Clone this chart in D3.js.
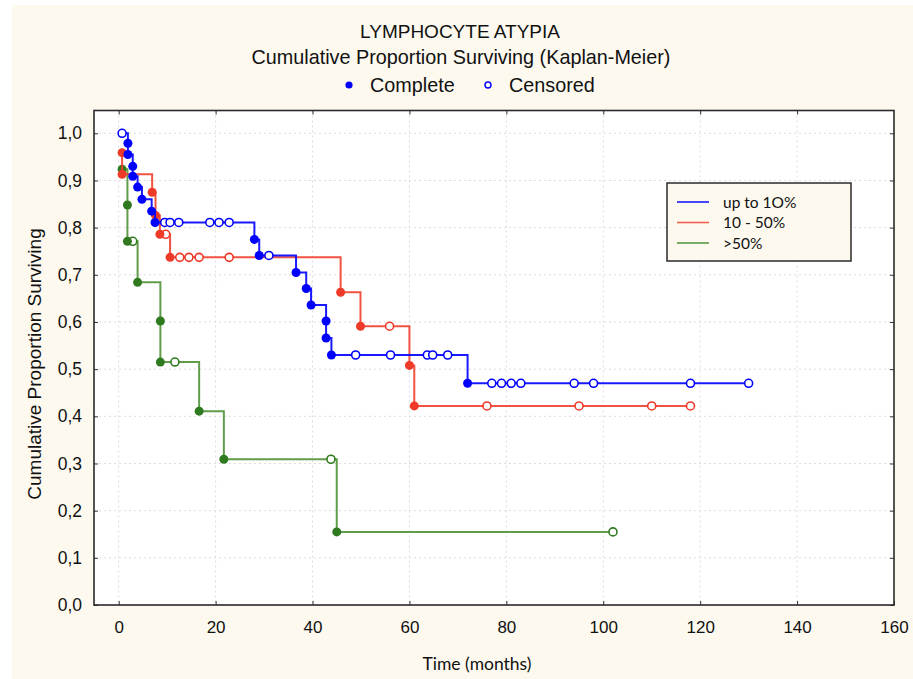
<!DOCTYPE html>
<html>
<head>
<meta charset="utf-8">
<script src="https://cdn.jsdelivr.net/npm/d3@7"></script>
<style>
  html, body { margin: 0; padding: 0; background: #ffffff; }
  svg { display: block; }
</style>
</head>
<body>
<svg id="chart" width="913" height="679"></svg>
<script>
// ---------------- DATA ----------------
const chartTitle = "LYMPHOCYTE ATYPIA";
const chartSubtitle = "Cumulative Proportion Surviving (Kaplan-Meier)";
const xAxisTitle = "Time (months)";
const yAxisTitle = "Cumulative Proportion Surviving";
const seriesNames = ["up to 1O%", "10 - 50%", ">50%"];

const xTicks = [0, 20, 40, 60, 80, 100, 120, 140, 160];
const yTicks = [0, 0.1, 0.2, 0.3, 0.4, 0.5, 0.6, 0.7, 0.8, 0.9, 1.0];

// event: 1 = complete, 0 = censored
const blueTime  = [0.7, 1.9, 1.9, 2.9, 2.9, 3.9, 4.8, 6.8, 7.5, 9.5, 10.6, 12.4, 18.8, 20.7, 22.8,
                   28, 29, 31, 36.6, 38.7, 39.7, 42.8, 42.8, 43.9, 48.9, 56.1, 63.7, 64.8, 67.9,
                   72, 77, 79, 81, 83, 94, 98, 118, 130];
const blueSurv  = [1.0, 0.979, 0.955, 0.930, 0.909, 0.886, 0.860, 0.835, 0.811, 0.811, 0.811, 0.811, 0.811, 0.811, 0.811,
                   0.775, 0.741, 0.741, 0.705, 0.671, 0.636, 0.602, 0.566, 0.530, 0.530, 0.530, 0.530, 0.530, 0.530,
                   0.470, 0.470, 0.470, 0.470, 0.470, 0.470, 0.470, 0.470, 0.470];
const blueEvent = [0, 1, 1, 1, 1, 1, 1, 1, 1, 0, 0, 0, 0, 0, 0,
                   1, 1, 0, 1, 1, 1, 1, 1, 1, 0, 0, 0, 0, 0,
                   1, 0, 0, 0, 0, 0, 0, 0, 0];

const redTime  = [0.7, 0.7, 6.9, 7.6, 8.5, 9.7, 10.6, 12.6, 14.5, 16.6, 22.8,
                  45.8, 49.9, 55.9, 60, 61, 76, 95, 110, 118];
const redSurv  = [0.959, 0.913, 0.875, 0.826, 0.786, 0.786, 0.737, 0.737, 0.737, 0.737, 0.737,
                  0.663, 0.591, 0.591, 0.508, 0.422, 0.422, 0.422, 0.422, 0.422];
const redEvent = [1, 1, 1, 1, 1, 0, 1, 0, 0, 0, 0,
                  1, 1, 0, 1, 1, 0, 0, 0, 0];

const greenTime  = [0.7, 1.8, 1.8, 2.9, 3.9, 8.6, 8.6, 11.6, 16.6, 21.7, 43.8, 45, 102];
const greenSurv  = [0.924, 0.848, 0.771, 0.771, 0.684, 0.602, 0.515, 0.515, 0.411, 0.309, 0.309, 0.155, 0.155];
const greenEvent = [1, 1, 1, 0, 1, 1, 1, 0, 1, 1, 0, 1, 0];

// ---------------- STYLE / LAYOUT ----------------
const W = 913, H = 679;
const plot = { left: 94, right: 894, top: 110.5, bottom: 605 };
const cream = "#fdf9ef";
const seriesStyle = [
  { line: "#0000ff", dot: "#0000ff", legend: "#1a1aff" },
  { line: "#f0402e", dot: "#ee3a28", legend: "#f0604e" },
  { line: "#4f9236", dot: "#2f7a1f", legend: "#5a9a46" }
];

const svg = d3.select("#chart");
svg.append("rect").attr("x", 0).attr("y", 0).attr("width", W).attr("height", H).attr("fill", "#ffffff");
svg.append("rect").attr("x", 12).attr("y", 5).attr("width", W - 12).attr("height", H - 5).attr("fill", cream);

const x = d3.scaleLinear().domain([0, 160]).range([118.7, 894]);
const y = d3.scaleLinear().domain([0, 1]).range([605, 133.3]);

// plot background
svg.append("rect")
  .attr("x", plot.left).attr("y", plot.top)
  .attr("width", plot.right - plot.left).attr("height", plot.bottom - plot.top)
  .attr("fill", "#ffffff");

// grid
const grid = svg.append("g").attr("stroke", "#dcdcdc").attr("stroke-width", 1).attr("stroke-dasharray", "2,3");
xTicks.filter(t => x(t) < plot.right - 2).forEach(t => {
  grid.append("line").attr("x1", x(t)).attr("x2", x(t)).attr("y1", plot.top).attr("y2", plot.bottom);
});
yTicks.filter(t => t > 0).forEach(t => {
  grid.append("line").attr("x1", plot.left).attr("x2", plot.right).attr("y1", y(t)).attr("y2", y(t));
});

// axes with d3 (labels), ticks inward
const fontMain = "'Liberation Sans', Arial, sans-serif";
const fmtY = d => d3.format(".1f")(d).replace(".", ",");

const xAxis = svg.append("g").attr("transform", `translate(0,${plot.bottom})`)
  .call(d3.axisBottom(x).tickValues(xTicks).tickSize(-4).tickPadding(16).tickFormat(d3.format("d")));
xAxis.select(".domain").remove();
xAxis.selectAll("text").attr("font-family", fontMain).attr("font-size", 17).attr("fill", "#111");
xAxis.selectAll("line").attr("stroke", "#333");

const yAxis = svg.append("g").attr("transform", `translate(${plot.left},0)`)
  .call(d3.axisLeft(y).tickValues(yTicks).tickSize(-4).tickPadding(12).tickFormat(fmtY));
yAxis.select(".domain").remove();
yAxis.selectAll("text").attr("font-family", fontMain).attr("font-size", 17.5).attr("fill", "#111");
yAxis.selectAll("line").attr("stroke", "#333");

// top / right inward ticks
const topAx = svg.append("g").attr("transform", `translate(0,${plot.top})`)
  .call(d3.axisTop(x).tickValues(xTicks.filter(t => t < 160)).tickSize(-4).tickFormat(""));
topAx.select(".domain").remove();
topAx.selectAll("line").attr("stroke", "#333");
const rightAx = svg.append("g").attr("transform", `translate(${plot.right},0)`)
  .call(d3.axisRight(y).tickValues(yTicks).tickSize(-4).tickFormat(""));
rightAx.select(".domain").remove();
rightAx.selectAll("line").attr("stroke", "#333");

// frame
svg.append("rect")
  .attr("x", plot.left).attr("y", plot.top)
  .attr("width", plot.right - plot.left).attr("height", plot.bottom - plot.top)
  .attr("fill", "none").attr("stroke", "#2a2a2a").attr("stroke-width", 1.6);

// series
const series = [
  { t: greenTime, s: greenSurv, e: greenEvent, st: seriesStyle[2] },
  { t: redTime, s: redSurv, e: redEvent, st: seriesStyle[1] },
  { t: blueTime, s: blueSurv, e: blueEvent, st: seriesStyle[0] }
];
const line = d3.line().x(d => x(d.t)).y(d => y(d.s)).curve(d3.curveStepAfter);
series.forEach(ser => {
  const pts = ser.t.map((t, i) => ({ t: t, s: ser.s[i], e: ser.e[i] }));
  const g = svg.append("g");
  g.append("path").datum(pts).attr("d", line)
    .attr("fill", "none").attr("stroke", ser.st.line).attr("stroke-width", 2).attr("opacity", 0.9);
  g.selectAll("circle.c").data(pts.filter(p => p.e === 0)).join("circle")
    .attr("cx", p => x(p.t)).attr("cy", p => y(p.s)).attr("r", 4)
    .attr("fill", "#ffffff").attr("stroke", ser.st.dot).attr("stroke-width", 1.6);
  g.selectAll("circle.f").data(pts.filter(p => p.e === 1)).join("circle")
    .attr("cx", p => x(p.t)).attr("cy", p => y(p.s)).attr("r", 4.5)
    .attr("fill", ser.st.dot);
});

// titles
svg.append("text").attr("x", 460).attr("y", 38).attr("text-anchor", "middle")
  .attr("font-family", fontMain).attr("font-size", 19).attr("fill", "#111").text(chartTitle);
svg.append("text").attr("x", 461).attr("y", 64).attr("text-anchor", "middle")
  .attr("font-family", fontMain).attr("font-size", 19.8).attr("fill", "#111").text(chartSubtitle);

// marker legend
svg.append("circle").attr("cx", 349).attr("cy", 85).attr("r", 3.6).attr("fill", "#0000ff");
svg.append("text").attr("x", 370).attr("y", 92).attr("font-family", fontMain).attr("font-size", 19.8).attr("fill", "#111").text("Complete");
svg.append("circle").attr("cx", 488).attr("cy", 85).attr("r", 3).attr("fill", "#fff").attr("stroke", "#0000ff").attr("stroke-width", 1.4);
svg.append("text").attr("x", 509).attr("y", 92).attr("font-family", fontMain).attr("font-size", 19.8).attr("fill", "#111").text("Censored");

// axis titles
svg.append("text").attr("transform", "translate(41,364) rotate(-90)").attr("text-anchor", "middle")
  .attr("font-family", fontMain).attr("font-size", 19).attr("fill", "#111").text(yAxisTitle);
svg.append("text").attr("x", 477).attr("y", 670).attr("text-anchor", "middle")
  .attr("font-family", "Lato, 'Open Sans', sans-serif").attr("font-size", 17.5).attr("fill", "#111").text(xAxisTitle);

// series legend box
const lg = svg.append("g");
lg.append("rect").attr("x", 667).attr("y", 183).attr("width", 184).attr("height", 78)
  .attr("fill", cream).attr("stroke", "#2a2a2a").attr("stroke-width", 1.5);
const legendOrder = [0, 1, 2];
legendOrder.forEach((idx, i) => {
  const yy = 202 + i * 20.5;
  lg.append("line").attr("x1", 677).attr("x2", 709).attr("y1", yy).attr("y2", yy)
    .attr("stroke", seriesStyle[idx].legend).attr("stroke-width", 1.6);
  lg.append("text").attr("x", 723).attr("y", yy + 5.5)
    .attr("font-family", "Lato, 'Open Sans', sans-serif").attr("font-size", 15.5).attr("fill", "#111")
    .text(seriesNames[idx]);
});
</script>
</body>
</html>
